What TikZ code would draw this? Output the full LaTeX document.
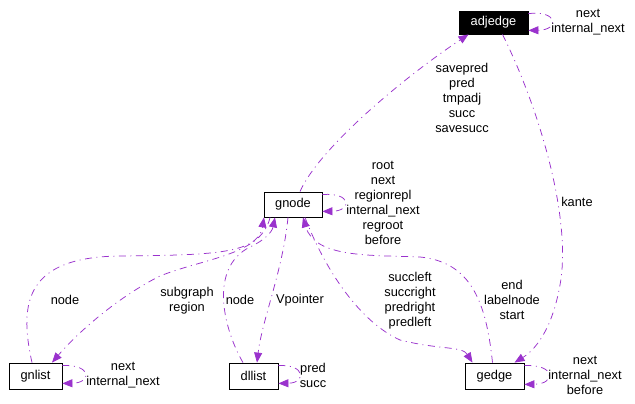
\documentclass[tikz,border=0pt]{standalone}
\usepackage{fontspec}
\setmainfont{Liberation Sans}
\usetikzlibrary{arrows.meta}
\definecolor{edgecol}{RGB}{154,50,205}
\begin{document}
\begin{tikzpicture}[x=1pt,y=-1pt,
  every node/.style={font=\fontsize{12.8}{15}\selectfont},
  box/.style={draw=black,line width=0.8pt,fill=white,inner sep=0pt,anchor=center},
  lbl/.style={align=center,inner sep=0pt,anchor=center},
  rel/.style={draw=edgecol,line width=0.75pt,dash pattern=on 7pt off 4.5pt on 1pt off 4.5pt},
  tip/.style={-{Triangle[length=10pt,width=8pt]}}
]
\useasboundingbox[fill=white] (0,0) rectangle (635,404);

% boxes
\node[box,fill=black,text=white,minimum width=69pt,minimum height=23pt] (adjedge) at (493.5,22.5) {adjedge};
\node[box,minimum width=58pt,minimum height=25pt] (gnode) at (293,204.5) {gnode};
\node[box,minimum width=53pt,minimum height=26pt] (gnlist) at (35.5,376) {gnlist};
\node[box,minimum width=49pt,minimum height=26pt] (dllist) at (253.5,376) {dllist};
\node[box,minimum width=59pt,minimum height=26pt] (gedge) at (494.5,376) {gedge};

% gnode -> adjedge
\draw[rel,tip] ([xshift=7pt]gnode.north) .. controls (318,150) and (400,80) .. ([xshift=-25pt]adjedge.south);
% adjedge self loop
\draw[rel,tip] ([yshift=-3pt]adjedge.north east) .. controls (558,10) and (560,30) .. ([yshift=4pt]adjedge.south east);
% adjedge -> gedge (kante)
\draw[rel,tip] ([xshift=9pt]adjedge.south) .. controls (540,110) and (572,220) .. (560,285) .. controls (552,330) and (535,350) .. ([xshift=20pt]gedge.north);
% gnode self loop
\draw[rel,tip] ([yshift=-3pt]gnode.north east) .. controls (352,192) and (352,211) .. ([yshift=6pt]gnode.south east);
% gnode -> gedge (succleft...)
\draw[rel,tip] ([xshift=12pt]gnode.south) .. controls (325,270) and (360,322) .. (400,340) .. controls (440,350) and (462,346) .. ([xshift=-22pt]gedge.north);
% gedge -> gnode (end labelnode start)
\draw[rel,tip] ([xshift=-2pt]gedge.north) .. controls (486,300) and (470,262) .. (420,257) .. controls (370,255) and (315,258) .. ([xshift=10pt]gnode.south);
% gnode -> dllist (Vpointer)
\draw[rel,tip] ([xshift=-5pt]gnode.south) .. controls (283,270) and (262,320) .. ([xshift=3.5pt]dllist.north);
% dllist -> gnode (node)
\draw[rel,tip] ([xshift=-10.5pt]dllist.north) .. controls (224,330) and (208,268) .. (250,247) .. controls (265,240) and (272,232) .. ([xshift=-18pt]gnode.south);
% gnlist -> gnode (node)
\draw[rel,tip] ([xshift=-3.5pt]gnlist.north) .. controls (18,300) and (28,257) .. (120,256) .. controls (205,255) and (258,255) .. ([xshift=-29pt]gnode.south);
% gnode -> gnlist (subgraph region)
\draw[rel,tip] ([xshift=-23pt]gnode.south) .. controls (262,255) and (205,258) .. (160,276) .. controls (120,296) and (80,330) .. ([xshift=16.5pt]gnlist.north);
% self loops of lower boxes
\draw[rel,tip] ([yshift=-3pt]gnlist.north east) .. controls (92,364) and (92,383) .. ([yshift=6pt]gnlist.south east);
\draw[rel,tip] ([yshift=-3pt]dllist.north east) .. controls (306,364) and (306,383) .. ([yshift=6pt]dllist.south east);
\draw[rel,tip] ([yshift=-3pt]gedge.north east) .. controls (556,364) and (556,384) .. ([yshift=5pt]gedge.south east);

% labels
\node[lbl] (ladjself) at (588,22.5) {next\\internal\_next};
\node[lbl] (ladj) at (462,98) {savepred\\pred\\tmpadj\\succ\\savesucc};
\node[lbl] (lkante) at (577,202) {kante};
\node[lbl] (lgnself) at (383,203) {root\\next\\regionrepl\\internal\_next\\regroot\\before};
\node[lbl] (lnode1) at (65,300) {node};
\node[lbl] (lsub) at (187,301) {subgraph\\region};
\node[lbl] (lnode2) at (240,300) {node};
\node[lbl] (lvp) at (300,300) {Vpointer};
\node[lbl] (lsucc) at (410,300.5) {succleft\\succright\\predright\\predleft};
\node[lbl] (lend) at (512,300) {end\\labelnode\\start};
\node[lbl] (lgnl) at (123,375.5) {next\\internal\_next};
\node[lbl] (ldll) at (313,375.5) {pred\\succ};
\node[lbl] (lged) at (585,375) {next\\internal\_next\\before};
\end{tikzpicture}
\end{document}
